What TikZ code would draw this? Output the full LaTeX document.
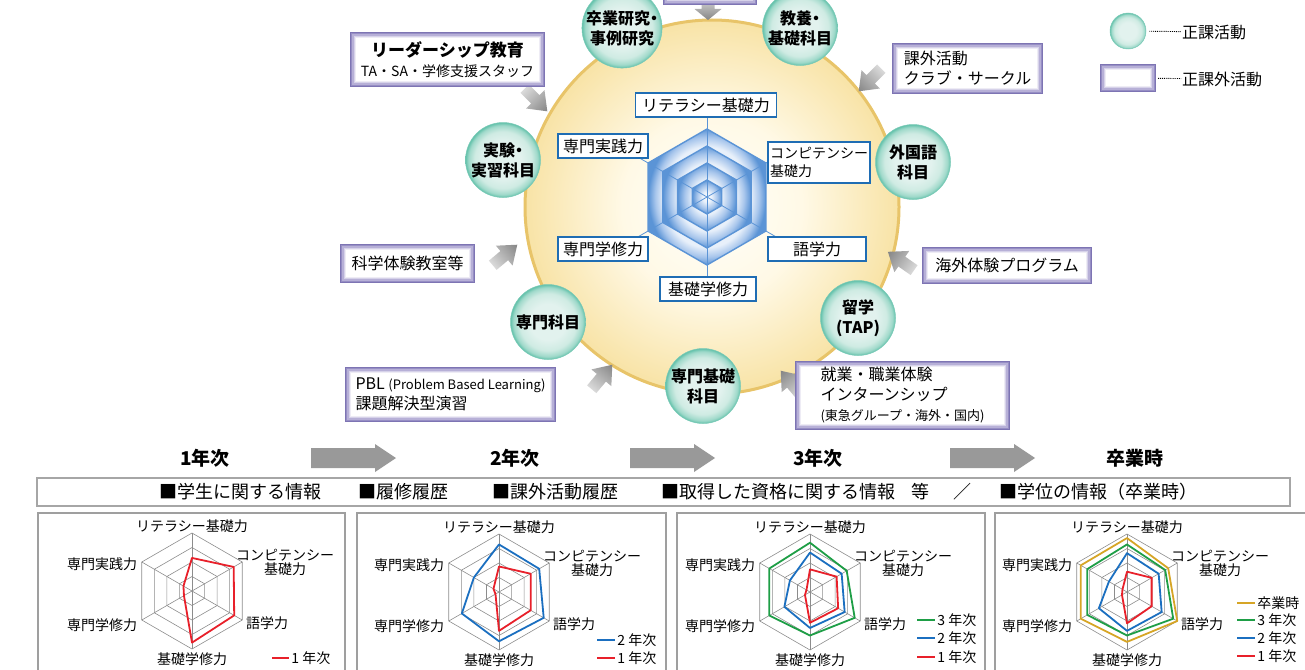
\documentclass[tikz,border=0pt]{standalone}
\usepackage{fontspec}
\setmainfont{Noto Sans CJK JP}
\usetikzlibrary{shapes.geometric}
\definecolor{pu1}{HTML}{7D74B3}
\definecolor{pu2}{HTML}{968EC4}
\definecolor{pu3}{HTML}{B7B0D7}
\definecolor{pu4}{HTML}{D6D2E9}
\definecolor{pu5}{HTML}{EEECF5}
\definecolor{tl0}{HTML}{E2F2EE}
\definecolor{tl1}{HTML}{CFEBE3}
\definecolor{tl2}{HTML}{9FD9CA}
\definecolor{tl3}{HTML}{62C1AA}
\definecolor{cy0}{HTML}{FFFFFB}
\definecolor{cy1}{HTML}{FFF9E6}
\definecolor{cy2}{HTML}{F8E3A6}
\definecolor{cgold}{HTML}{E8C469}
\definecolor{hl}{HTML}{E8F0FA}
\definecolor{hm}{HTML}{A8C6EC}
\definecolor{hd}{HTML}{5B94D6}
\definecolor{lblue}{HTML}{1F6DB4}
\definecolor{cred}{HTML}{E8202A}
\definecolor{cblue}{HTML}{1B6FC0}
\definecolor{cgreen}{HTML}{1E9E46}
\definecolor{cyel}{HTML}{D6A526}
\definecolor{ga}{HTML}{DADADA}
\definecolor{gb}{HTML}{858585}
\definecolor{gridc}{HTML}{8C8C8C}
\definecolor{barg}{HTML}{999999}
\pgfdeclareradialshading{tealrad}{\pgfpoint{0bp}{0bp}}{color(0bp)=(tl0); color(12bp)=(tl0); color(19bp)=(tl1); color(23bp)=(tl2); color(25bp)=(tl3); color(50bp)=(tl3)}
\pgfdeclareradialshading{corerad}{\pgfpoint{0bp}{0bp}}{color(0bp)=(cy0); color(12bp)=(cy1); color(25bp)=(cy2); color(50bp)=(cy2)}
\pgfdeclareradialshading{hexA}{\pgfpoint{0bp}{0bp}}{color(0bp)=(hl); color(18.5bp)=(hl); color(22bp)=(hm); color(25bp)=(hd); color(50bp)=(hd)}
\pgfdeclareradialshading{hexB}{\pgfpoint{0bp}{0bp}}{color(0bp)=(hl); color(16.5bp)=(hl); color(21bp)=(hm); color(25bp)=(hd); color(50bp)=(hd)}
\pgfdeclareradialshading{hexC}{\pgfpoint{0bp}{0bp}}{color(0bp)=(hl); color(12.5bp)=(hl); color(19bp)=(hm); color(25bp)=(hd); color(50bp)=(hd)}
\pgfdeclareradialshading{hexD}{\pgfpoint{0bp}{0bp}}{color(0bp)=(white); color(8bp)=(hl); color(17bp)=(hm); color(25bp)=(hd); color(50bp)=(hd)}
\newcommand\fsz[2]{\fontsize{#1}{#2}\selectfont}
\newcommand\ndot{\makebox[8pt]{・}}
\newcommand\radarbase{%
  \foreach \rr in {14.5,29,43.5,58} \draw[gridline] (-90:\rr) -- (-30:\rr) -- (30:\rr) -- (90:\rr) -- (150:\rr) -- (210:\rr) -- cycle;
  \foreach \ang in {-90,-30,30,90,150,210} \draw[gridline] (0,0) -- (\ang:58);
  \node[plabel] (lit) at (0,-65) {リテラシー基礎力};
  \node[plabel, align=center] (com) at (93,-29) {コンピテンシー\\基礎力};
  \node[plabel] (jis) at (-90,-27) {専門実践力};
  \node[plabel] (sen) at (-90,34) {専門学修力};
  \node[plabel] (gog) at (75,32) {語学力};
  \node[plabel] (kis) at (0,68) {基礎学修力};
}
\newcommand\rpoly[7]{\draw[#1] (-90:{#2*58}) -- (-30:{#3*58}) -- (30:{#4*58}) -- (90:{#5*58}) -- (150:{#6*58}) -- (210:{#7*58}) -- cycle;}
% gray arrow: x, y, canvas angle
\newcommand\grayarrow[3]{%
  \begin{scope}[transform canvas={shift={(#1,#2)}, rotate=#3}]
    \shade[left color=ga, right color=gb] (-16,-6) -- (-1,-6) -- (-1,-13) -- (16,0) -- (-1,13) -- (-1,6) -- (-16,6) -- cycle;
  \end{scope}}
% big arrow: x of tail, y
\newcommand\bigarrow[2]{\fill[barg] (#1,{#2-10}) -- ({#1+64},{#2-10}) -- ({#1+64},{#2-14}) -- ({#1+85},#2) -- ({#1+64},{#2+14}) -- ({#1+64},{#2+10}) -- (#1,{#2+10}) -- cycle;}
\tikzset{
  pbox/.style={rectangle, fill=white, inner sep=0pt, align=center, font=\fsz{16}{20},
    path picture={\foreach \dd/\cc in {0.65pt/pu1,1.9pt/pu2,3.1pt/pu3,4.3pt/pu4,5.5pt/pu5}{\draw[\cc, line width=1.3pt] ([xshift=\dd, yshift=\dd]path picture bounding box.south west) rectangle ([xshift=-\dd, yshift=-\dd]path picture bounding box.north east);}}},
  tcirc/.style={circle, minimum size=75pt, inner sep=0pt, shade, shading=tealrad, draw=tl3!85, line width=0.5pt, align=center, font=\bfseries\fsz{16}{20}},
  hlabel/.style={rectangle, draw=lblue, line width=1.1pt, fill=white, inner sep=2pt, minimum height=24pt, font=\fsz{16}{19}},
  panel/.style={rectangle, draw=gray!75, line width=1.3pt, inner sep=0pt},
  gridline/.style={draw=gridc, line width=0.6pt},
  plabel/.style={font=\fsz{14}{14}, inner sep=0pt},
  dline/.style={line width=1.8pt, line join=round},
  legtxt/.style={font=\fsz{14}{16}, inner sep=1.5pt, anchor=west, text=black},
  yeartxt/.style={font=\bfseries\fsz{19}{22}},
  bartxt/.style={font=\fsz{18}{21}}
}
\begin{document}
\begin{tikzpicture}[x=1pt, y=-1pt]
\useasboundingbox (0,0) rectangle (1305,669);
\clip (0,0) rectangle (1305,669);
% central circle
\node[circle, minimum size=374pt, inner sep=0pt, shade, shading=corerad, draw=cgold, line width=3pt] (core) at (712,207) {};
% hexagon
\coordinate (hc) at (707,197);
\begin{scope}[shift={(707,197)}]
  \foreach \rr/\shd in {68/hexA,51/hexB,34/hexC,17/hexD}{
    \shade[shading=\shd] (-90:\rr) -- (-30:\rr) -- (30:\rr) -- (90:\rr) -- (150:\rr) -- (210:\rr) -- cycle;
    \draw[hd, line width=1.4pt, line join=round] (-90:\rr) -- (-30:\rr) -- (30:\rr) -- (90:\rr) -- (150:\rr) -- (210:\rr) -- cycle;
  }
  \foreach \ang/\len in {-90/84,-30/80,30/82,90/84,150/82,210/82} \draw[hd, line width=0.8pt] (0,0) -- (\ang:\len);
\end{scope}
% hexagon labels
\node[hlabel, minimum width=141pt] (h1) at (706,105) {リテラシー基礎力};
\node[hlabel, minimum width=102pt, minimum height=41pt, align=left, font=\fsz{14}{18}] (h2) at (819,162.5) {コンピテンシー\\基礎力};
\node[hlabel, minimum width=90pt] (h3) at (603,146) {専門実践力};
\node[hlabel, minimum width=90pt] (h4) at (603,249) {専門学修力};
\node[hlabel, minimum width=98pt] (h5) at (817,249) {語学力};
\node[hlabel, minimum width=96pt] (h6) at (708,289) {基礎学修力};
% teal circles
\node[tcirc] (c1) at (622,28) {卒業研究\ndot\\事例研究};
\node[tcirc] (c2) at (800,28) {教養\ndot\\基礎科目};
\node[tcirc] (c3) at (503,160) {実験\ndot\\実習科目};
\node[tcirc] (c4) at (913,162) {外国語\\科目};
\node[tcirc] (c5) at (548,322) {専門科目};
\node[tcirc] (c6) at (858,318) {留学\\(TAP)};
\node[tcirc] (c7) at (703,386) {専門基礎\\科目};
% gray arrows
\begin{scope}[transform canvas={shift={(708,9)}, rotate=-90}]
  \shade[left color=ga, right color=gb] (-12,-6.5) -- (0,-6.5) -- (0,-13.5) -- (11,0) -- (0,13.5) -- (0,6.5) -- (-12,6.5) -- cycle;
\end{scope}
\grayarrow{536}{100}{-45}
\grayarrow{870}{80}{-135}
\grayarrow{505}{255}{40}
\grayarrow{901}{261}{145}
\grayarrow{602}{377}{50}
\grayarrow{791}{383}{130}
% purple boxes
\node[pbox, minimum width=94pt, minimum height=40pt] (b0) at (710,-15) {};
\node[pbox, minimum width=195pt, minimum height=55pt] (b1) at (447.5,59.5) {{\bfseries\fsz{17}{21}リーダーシップ教育}\\{\fsz{14}{17}TA・SA・学修支援スタッフ}};
\node[pbox, minimum width=151pt, minimum height=51pt, align=left] (b2) at (967.5,68.5) {課外活動\\クラブ・サークル};
\node[pbox, minimum width=135pt, minimum height=39pt] (b3) at (407.5,263.5) {科学体験教室等};
\node[pbox, minimum width=170pt, minimum height=37pt] (b4) at (1007,265.5) {海外体験プログラム};
\node[pbox, minimum width=211pt, minimum height=55pt, align=left] (b5) at (450.5,394.5) {PBL {\fsz{13}{17}(Problem Based Learning)}\\課題解決型演習};
\node[pbox, minimum width=215pt, minimum height=69pt, align=left] (b6) at (902.5,395.5) {就業・職業体験\\インターンシップ\\{\fsz{13}{16}(東急グループ・海外・国内)}};
% legend
\node[circle, minimum size=36pt, inner sep=0pt, shade, shading=tealrad, draw=tl3!85, line width=0.5pt] (lc) at (1128,31) {};
\node[anchor=west, font=\fsz{16}{19}, inner sep=1pt] (lt1) at (1181,32) {正課活動};
\node[pbox, minimum width=56pt, minimum height=28pt] (lr) at (1128,78) {};
\node[anchor=west, font=\fsz{16}{19}, inner sep=1pt] (lt2) at (1181,79) {正課外活動};
\draw[densely dotted, line width=0.9pt, shorten <=3pt] (lc) -- (lt1);
\draw[densely dotted, line width=0.9pt, shorten <=2pt] (lr) -- (lt2);
% years
\node[yeartxt] (y1) at (205,458) {1年次};
\node[yeartxt] (y2) at (515,458) {2年次};
\node[yeartxt] (y3) at (818,458) {3年次};
\node[yeartxt] (y4) at (1135,458) {卒業時};
\bigarrow{311}{458}
\bigarrow{630}{458}
\bigarrow{950}{458}
% info bar
\node[rectangle, draw=gray!70, line width=1.2pt, minimum width=1253pt, minimum height=28pt, inner sep=0pt] (bar) at (663.5,492) {};
\node[bartxt] (t1) at (240,492) {■学生に関する情報};
\node[bartxt] (t2) at (403,492) {■履修履歴};
\node[bartxt] (t3) at (555,492) {■課外活動履歴};
\node[bartxt] (t4) at (778,492) {■取得した資格に関する情報};
\node[bartxt] (t5) at (920,492) {等};
\node[bartxt] (t6) at (962,492) {／};
\node[bartxt] (t7) at (1098,492) {■学位の情報（卒業時）};
% panels
\node[panel, minimum width=307pt, minimum height=170pt] (pa) at (191.5,598) {};
\node[panel, minimum width=309pt, minimum height=170pt] (pb) at (511.5,598) {};
\node[panel, minimum width=308pt, minimum height=170pt] (pc) at (831,598) {};
\node[panel, minimum width=315pt, minimum height=170pt] (pd) at (1152.5,598) {};
% panel 1
\begin{scope}[shift={(192,591)}, name prefix=p1-]
  \radarbase
  \rpoly{cred, dline}{0.57}{0.83}{0.84}{0.89}{0.16}{0.17}
\end{scope}
\draw[cred, dline] (272,658) -- (289,658) node[legtxt] (p1-k1) {1 年次};
% panel 2
\begin{scope}[shift={(499,592)}, name prefix=p2-]
  \radarbase
  \rpoly{cred, dline}{0.44}{0.63}{0.63}{0.67}{0.07}{0.11}
  \rpoly{cblue, dline}{0.82}{0.80}{0.89}{0.85}{0.74}{0.50}
\end{scope}
\draw[cblue, dline] (597,640) -- (615,640) node[legtxt] (p2-k2) {2 年次};
\draw[cred, dline] (597,658) -- (615,658) node[legtxt] (p2-k1) {1 年次};
% panel 3
\begin{scope}[shift={(810,592)}, name prefix=p3-]
  \radarbase
  \rpoly{cred, dline}{0.39}{0.53}{0.56}{0.53}{0.10}{0.07}
  \rpoly{cblue, dline}{0.68}{0.63}{0.69}{0.62}{0.51}{0.40}
  \rpoly{cgreen, dline}{0.85}{0.73}{0.89}{0.75}{0.81}{0.81}
\end{scope}
\draw[cgreen, dline] (917,620) -- (935,620) node[legtxt] (p3-k3) {3 年次};
\draw[cblue, dline] (917,638) -- (935,638) node[legtxt] (p3-k2) {2 年次};
\draw[cred, dline] (917,657) -- (935,657) node[legtxt] (p3-k1) {1 年次};
% panel 4
\begin{scope}[shift={(1127,592)}, name prefix=p4-]
  \radarbase
  \rpoly{cred, dline}{0.35}{0.49}{0.49}{0.54}{0.10}{0.09}
  \rpoly{cblue, dline}{0.67}{0.63}{0.69}{0.67}{0.56}{0.36}
  \rpoly{cgreen, dline}{0.82}{0.76}{0.92}{0.75}{0.79}{0.79}
  \rpoly{cyel, dline}{0.93}{0.82}{1.0}{0.86}{0.92}{0.92}
\end{scope}
\draw[cyel, dline] (1237,603) -- (1255,603) node[legtxt] (p4-k4) {卒業時};
\draw[cgreen, dline] (1237,620) -- (1255,620) node[legtxt] (p4-k3) {3 年次};
\draw[cblue, dline] (1237,638) -- (1255,638) node[legtxt] (p4-k2) {2 年次};
\draw[cred, dline] (1237,656) -- (1255,656) node[legtxt] (p4-k1) {1 年次};
\end{tikzpicture}
\end{document}
